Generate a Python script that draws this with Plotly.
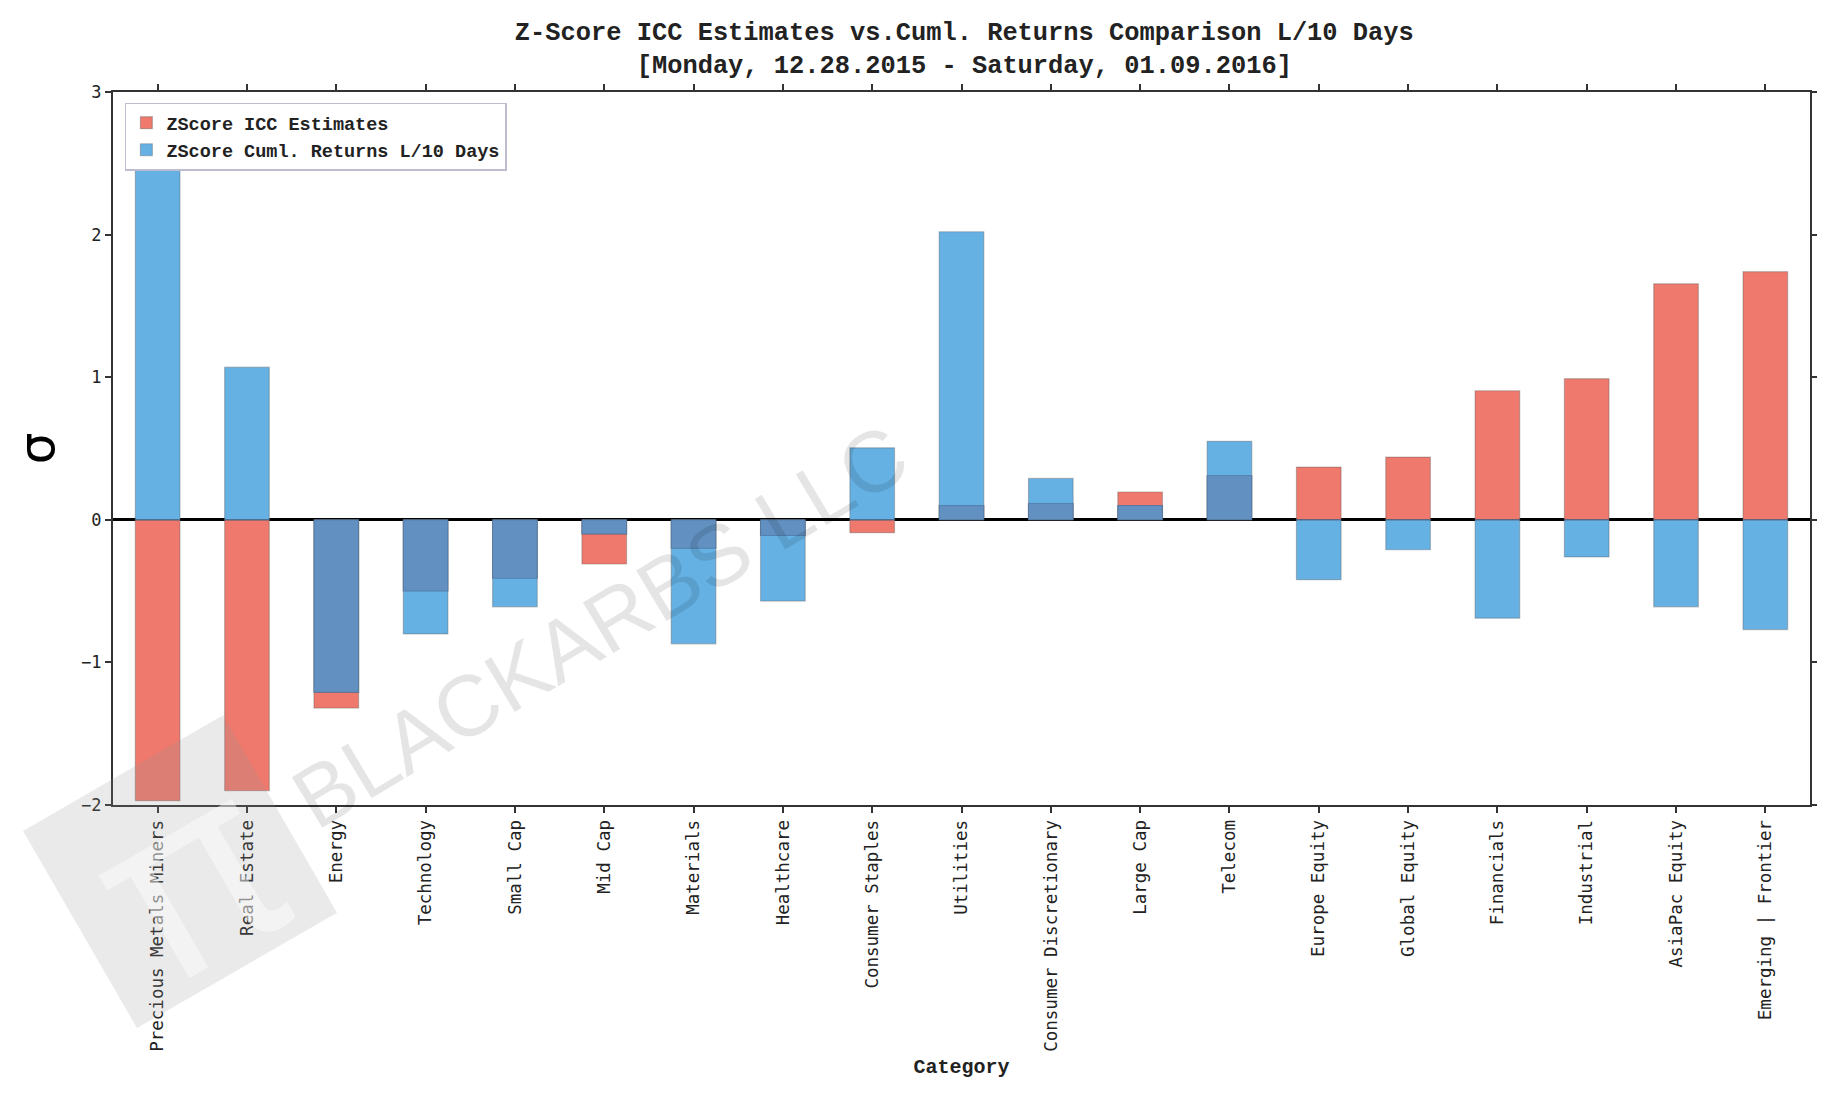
import plotly.graph_objects as go

categories = ["Precious Metals Miners", "Real Estate", "Energy", "Technology", "Small Cap",
              "Mid Cap", "Materials", "Healthcare", "Consumer Staples", "Utilities",
              "Consumer Discretionary", "Large Cap", "Telecom", "Europe Equity", "Global Equity",
              "Financials", "Industrial", "AsiaPac Equity", "Emerging | Frontier"]
icc_z = [-1.97, -1.90, -1.32, -0.50, -0.41, -0.31, -0.20, -0.11, -0.09, 0.10,
         0.115, 0.195, 0.31, 0.37, 0.44, 0.905, 0.99, 1.655, 1.74]
ret_z = [2.75, 1.07, -1.21, -0.80, -0.61, -0.10, -0.87, -0.57, 0.505, 2.02,
         0.29, 0.10, 0.55, -0.42, -0.21, -0.69, -0.26, -0.61, -0.77]
y_ticks = [-2, -1, 0, 1, 2, 3]

# overlap of the two series (where both bars share the same sign)
overlap = []
for a, b in zip(icc_z, ret_z):
    if a * b > 0:
        m = min(abs(a), abs(b))
        overlap.append(m if a > 0 else -m)
    else:
        overlap.append(0)

RED = "#EE796C"
BLUE = "#65B1E4"
DARK = "#6190C1"
EDGE = "rgba(90,90,90,0.35)"
MONO = "DejaVu Sans Mono"

fig = go.Figure()
fig.add_trace(go.Bar(x=categories, y=icc_z, name="ZScore ICC Estimates",
                     marker=dict(color=RED, line=dict(color=EDGE, width=1.2)), width=0.5))
fig.add_trace(go.Bar(x=categories, y=ret_z, name="ZScore Cuml. Returns L/10 Days",
                     marker=dict(color=BLUE, line=dict(color=EDGE, width=1.2)), width=0.5))
fig.add_trace(go.Bar(x=categories, y=overlap, name="overlap", showlegend=False,
                     marker=dict(color=DARK, line=dict(color="rgba(70,100,140,0.5)", width=1)),
                     width=0.5, hoverinfo="skip"))

# watermark logo (decorative)
fig.add_shape(type="path", xref="paper", yref="paper", layer="above",
              path="M -0.053 -0.0365 L 0.0648 0.126 L 0.132 -0.151 L 0.01414 -0.3128 Z",
              fillcolor="rgba(150,150,150,0.2)", line=dict(width=0))
fig.add_annotation(xref="paper", yref="paper", x=0.042, y=-0.09, text="π", showarrow=False,
                   xanchor="center", yanchor="middle",
                   textangle=-30, font=dict(family="Noto Sans", size=250, color="rgba(255,255,255,0.45)"))
fig.add_annotation(xref="paper", yref="paper", x=0.287, y=0.251, text="BLACKARBS LLC", showarrow=False,
                   xanchor="center", yanchor="middle",
                   textangle=-31, font=dict(family="Liberation Sans", size=86, color="rgba(0,0,0,0.1)"))

fig.update_layout(
    width=1825, height=1100,
    barmode="overlay",
    paper_bgcolor="white", plot_bgcolor="white",
    margin=dict(l=105, r=23, t=84, b=303),
    title=dict(text="Z-Score ICC Estimates vs.Cuml. Returns Comparison L/10 Days<br>[Monday, 12.28.2015 - Saturday, 01.09.2016]",
               x=0.524, xanchor="center", y=0.971, yanchor="middle",
               font=dict(family="Liberation Mono", size=25.4, color="#222222", weight="bold")),
    legend=dict(x=0.007, y=0.985, xanchor="left", yanchor="top",
                bgcolor="white", bordercolor="#BDBDCF", borderwidth=1.5,
                font=dict(family="Liberation Mono", size=18.5, color="#222222", weight="bold"),
                tracegroupgap=2),
    showlegend=True,
    bargap=0.5,
)
fig.update_xaxes(
    range=[-0.5, 18.5], tickangle=-90,
    showline=True, linecolor="#333333", linewidth=2, mirror="ticks",
    ticks="outside", ticklen=6, tickcolor="#333333", tickwidth=1.5,
    tickfont=dict(family=MONO, size=17.5, color="#222222"),
    showgrid=False,
    title=dict(text="Category", font=dict(family="Liberation Mono", size=20, color="#222222", weight="bold"), standoff=8),
)
fig.update_yaxes(
    range=[-2, 3], tickvals=y_ticks,
    showline=True, linecolor="#333333", linewidth=2, mirror="ticks",
    ticks="outside", ticklen=6, tickcolor="#333333", tickwidth=1.5,
    tickfont=dict(family=MONO, size=17, color="#222222"),
    showgrid=False,
    zeroline=True, zerolinecolor="black", zerolinewidth=2.5,
    layer="above traces",
    title=dict(text="σ", font=dict(family="DejaVu Sans", size=50, color="black"), standoff=18),
)

fig.write_html("out.html")
